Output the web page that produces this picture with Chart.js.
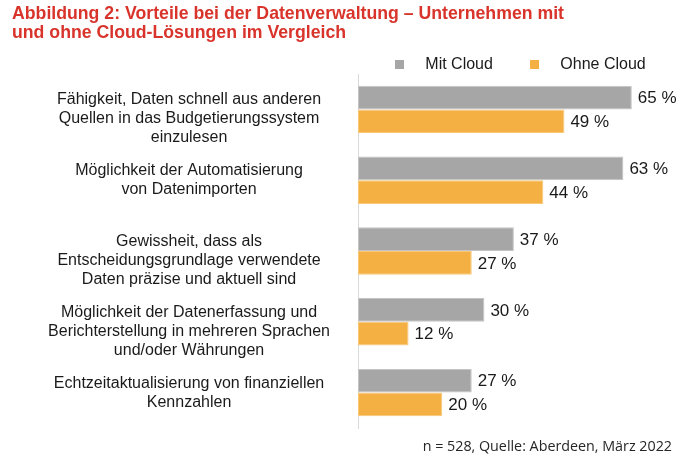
<!DOCTYPE html>
<html lang="de">
<head>
<meta charset="utf-8">
<title>Vorteile bei der Datenverwaltung</title>
<script src="https://cdn.jsdelivr.net/npm/chart.js@4.4.1/dist/chart.umd.min.js"></script>
<style>
  html, body { margin: 0; padding: 0; background: #fff; }
  #wrap { position: relative; width: 700px; height: 461px; }
</style>
</head>
<body>
<div id="wrap"><canvas id="cloudChart"></canvas></div>
<script>
'use strict';

// Daten
const titleLines = [
  'Abbildung 2: Vorteile bei der Datenverwaltung – Unternehmen mit',
  'und ohne Cloud-Lösungen im Vergleich',
];
const categories = [
  ['Fähigkeit, Daten schnell aus anderen', 'Quellen in das Budgetierungssystem', 'einzulesen'],
  ['Möglichkeit der Automatisierung', 'von Datenimporten'],
  ['Gewissheit, dass als', 'Entscheidungsgrundlage verwendete', 'Daten präzise und aktuell sind'],
  ['Möglichkeit der Datenerfassung und', 'Berichterstellung in mehreren Sprachen', 'und/oder Währungen'],
  ['Echtzeitaktualisierung von finanziellen', 'Kennzahlen'],
];
const mitCloud = [65, 63, 37, 30, 27];
const ohneCloud = [49, 44, 27, 12, 20];
const seriesNames = ['Mit Cloud', 'Ohne Cloud'];
const sourceNote = 'n = 528, Quelle: Aberdeen, März 2022';

const FONT = "'Liberation Sans', Arial, sans-serif";

// Prozentwerte rechts neben den Balken
const valueLabels = {
  id: 'valueLabels',
  afterDatasetsDraw(chart) {
    const { ctx } = chart;
    ctx.save();
    ctx.font = `17px ${FONT}`;
    ctx.fillStyle = '#1a1a1a';
    ctx.textAlign = 'left';
    ctx.textBaseline = 'middle';
    chart.data.datasets.forEach((ds, di) => {
      chart.getDatasetMeta(di).data.forEach((bar, i) => {
        ctx.fillText(`${ds.data[i]} %`, bar.x + 6, bar.y + 1);
      });
    });
    ctx.restore();
  }
};

// Legende ueber dem Diagramm, etwas rechts von der Achse
const legendPlacement = {
  id: 'legendPlacement',
  afterLayout(chart) {
    const lg = chart.legend;
    if (!lg) return;
    const w = lg.right - lg.left;
    lg.left = chart.chartArea.left + 31;
    lg.right = lg.left + w;
    lg.top = 50.5;
  }
};

// Quellenangabe unten rechts
const sourceLine = {
  id: 'sourceLine',
  afterDraw(chart) {
    const { ctx, chartArea } = chart;
    ctx.save();
    ctx.font = "14.3px 'Open Sans', 'Noto Sans', sans-serif";
    ctx.fillStyle = '#262626';
    ctx.textAlign = 'right';
    ctx.textBaseline = 'middle';
    ctx.fillText(sourceNote, chartArea.right - 23, chartArea.bottom + 19);
    ctx.restore();
  }
};

const ctx = document.getElementById('cloudChart').getContext('2d');
new Chart(ctx, {
  type: 'bar',
  plugins: [valueLabels, legendPlacement, sourceLine],
  data: {
    labels: categories,
    datasets: [
      {
        label: seriesNames[0],
        data: mitCloud,
        backgroundColor: '#a6a6a6',
        borderColor: '#c4c4c4',
        borderWidth: 1,
        borderSkipped: false,
      },
      {
        label: seriesNames[1],
        data: ohneCloud,
        backgroundColor: '#f5b043',
        borderColor: '#f8c878',
        borderWidth: 1,
        borderSkipped: false,
      },
    ],
  },
  options: {
    indexAxis: 'y',
    responsive: true,
    maintainAspectRatio: false,
    animation: false,
    categoryPercentage: 0.67,
    barPercentage: 1.0,
    layout: { padding: { left: 12, right: 5, top: 5, bottom: 33 } },
    plugins: {
      title: {
        display: true,
        text: titleLines,
        align: 'start',
        color: '#d9342b',
        font: { family: FONT, size: 17.7, weight: 'bold', lineHeight: '19px' },
        padding: { top: 0, bottom: -1 },
      },
      legend: {
        position: 'top',
        align: 'start',
        labels: {
          boxWidth: 9,
          boxHeight: 9,
          padding: 6,
          color: '#1a1a1a',
          font: { family: FONT, size: 16 },
          // Abstand zwischen Kästchen und Text bzw. zwischen den Einträgen
          generateLabels(chart) {
            const items = Chart.defaults.plugins.legend.labels.generateLabels(chart);
            items.forEach(it => {
              it.text = '   ' + it.text + '       ';
              it.lineWidth = 0;
              it.strokeStyle = it.fillStyle;
            });
            return items;
          },
        },
      },
      tooltip: { enabled: false },
    },
    scales: {
      x: {
        display: false,
        min: 0,
        max: 80,
      },
      y: {
        grid: { display: false, drawTicks: false },
        border: { display: true, color: '#d9d9d9', width: 1 },
        ticks: {
          autoSkip: false,
          crossAlign: 'center',
          padding: 28,
          color: '#1a1a1a',
          font: { family: FONT, size: 16, lineHeight: '19px' },
          // dreizeilige Beschriftungen sitzen etwas tiefer
          callback(value, i) {
            const lines = categories[i];
            return lines.length > 2 ? [''].concat(lines) : lines;
          },
        },
        afterFit(scale) {
          scale.width = 346;
          // mehrzeilige Beschriftungen sollen die Zeichenfläche nicht verkleinern
          scale.paddingTop = 0;
          scale.paddingBottom = 0;
        },
      },
    },
  },
});
</script>
</body>
</html>
